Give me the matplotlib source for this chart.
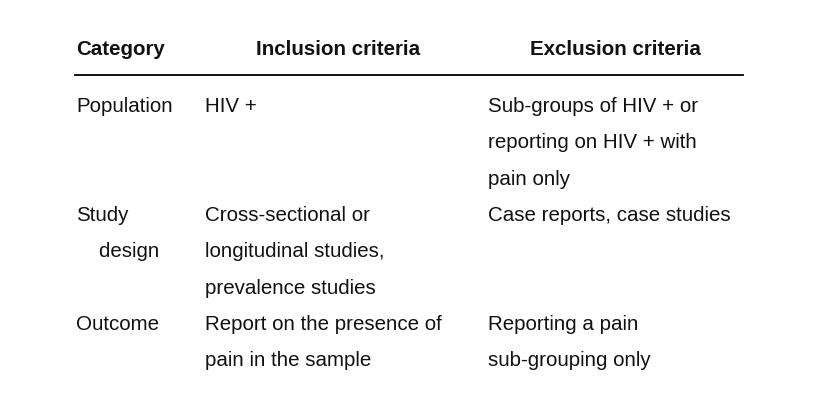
import matplotlib.pyplot as plt

# table content
headers = ["Category", "Inclusion criteria", "Exclusion criteria"]
categories = ["Population", "Study\n    design", "Outcome"]
inclusion = ["HIV +", "Cross-sectional or\nlongitudinal studies,\nprevalence studies",
             "Report on the presence of\npain in the sample"]
exclusion = ["Sub-groups of HIV + or\nreporting on HIV + with\npain only",
             "Case reports, case studies", "Reporting a pain\nsub-grouping only"]

W, H = 820, 410
fig = plt.figure(figsize=(W / 100, H / 100), dpi=100)
fig.patch.set_facecolor("white")
plt.rcParams["font.family"] = ["Liberation Sans", "DejaVu Sans"]

def px(x, y):
    return x / W, 1 - y / H

fs = 14.8
line_h = 36.3
col = "#111111"

# header
fig.text(*px(76, 55), headers[0], fontweight="bold", ha="left", va="baseline", fontsize=fs, color=col)
fig.text(*px(338, 55), headers[1], fontweight="bold", ha="center", va="baseline", fontsize=fs, color=col)
fig.text(*px(615, 55), headers[2], fontweight="bold", ha="center", va="baseline", fontsize=fs, color=col)
fig.add_artist(plt.Line2D([75 / W, 743 / W], [1 - 76 / H] * 2, color="black", lw=1.3))

row_y = [112, 221, 330]
for y, c, inc, exc in zip(row_y, categories, inclusion, exclusion):
    for x, t in ((76, c), (205, inc), (488, exc)):
        for i, ln in enumerate(t.split("\n")):
            fig.text(*px(x, y + i * line_h), ln, ha="left", va="baseline",
                     fontsize=fs, color=col)

fig.savefig("out.png", dpi=100)
